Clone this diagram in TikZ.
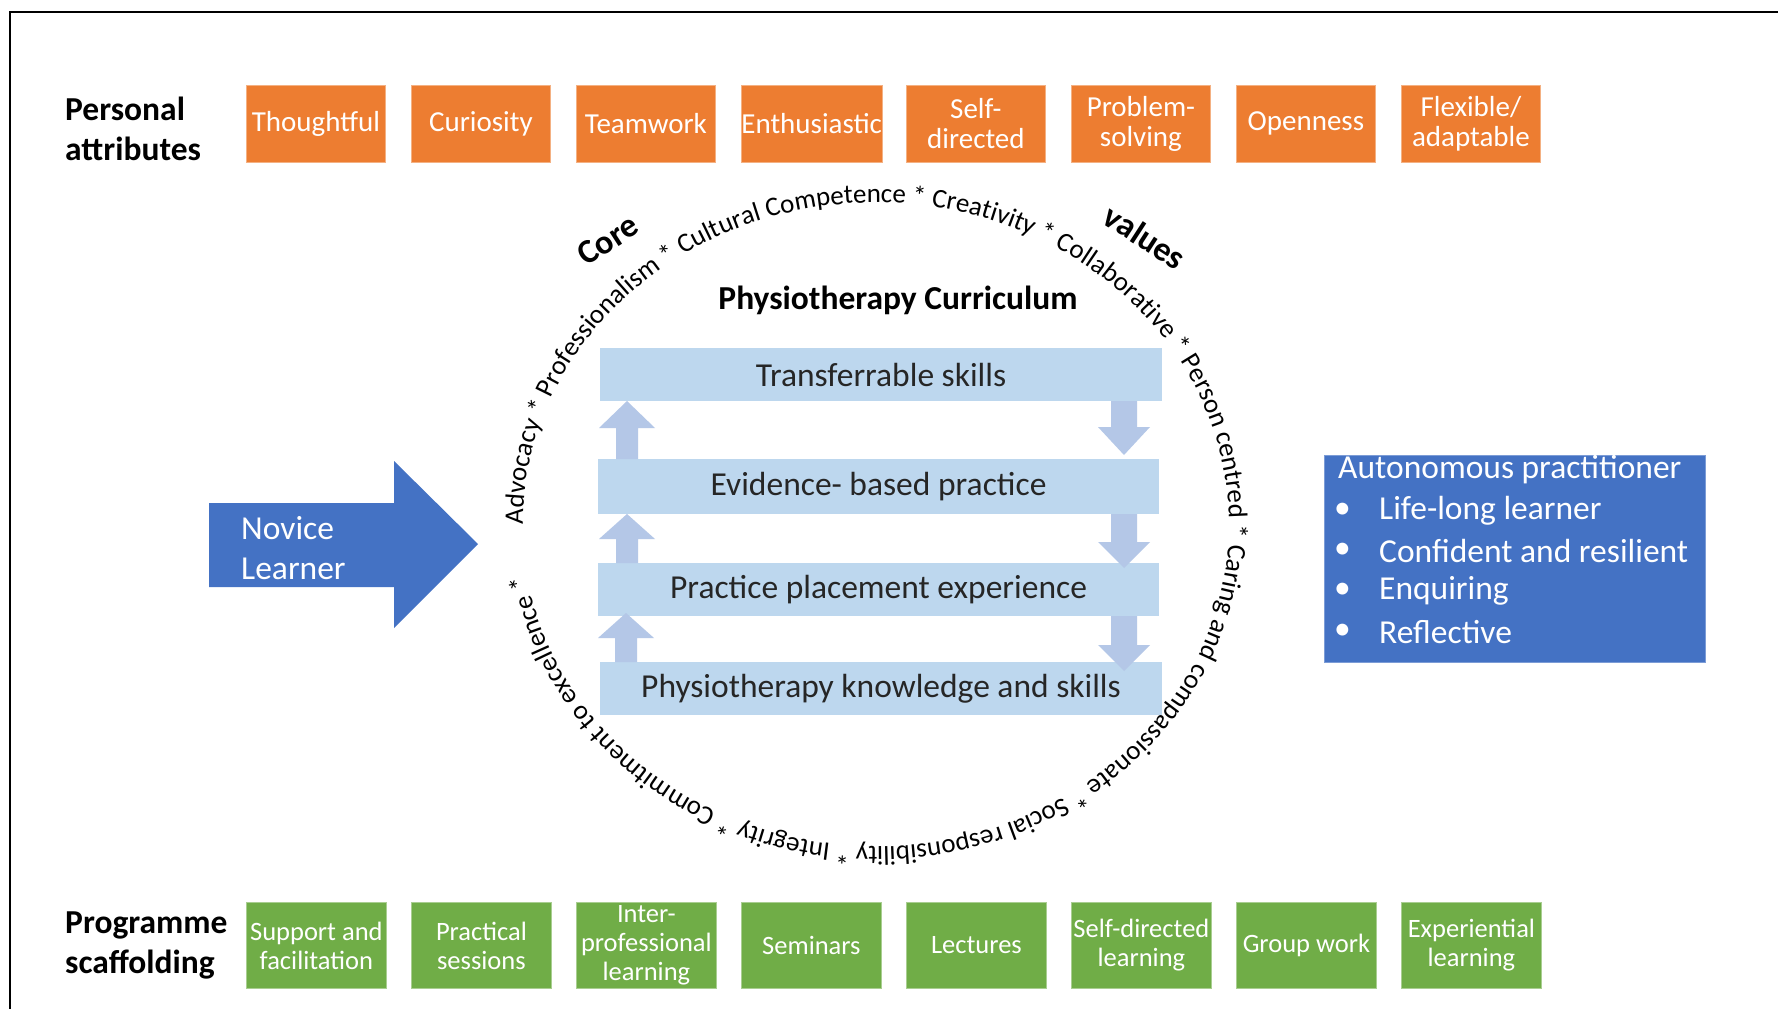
\documentclass[tikz,border=0pt]{standalone}
\usepackage{fontspec}
\setmainfont{Carlito}
\usetikzlibrary{decorations.text}
\definecolor{orng}{HTML}{ED7D31}
\definecolor{grn}{HTML}{70AD47}
\definecolor{barblue}{HTML}{BDD7EE}
\definecolor{arrblue}{HTML}{B4C7E7}
\definecolor{dkblue}{HTML}{4472C4}
\newcommand\ringfont{\fontsize{27}{29}\selectfont}
\newcommand\blockup[4]{\fill[arrblue] (#1,#2) -- ({#1+28},#3) -- ({#1+11},#3) -- ({#1+11},#4) -- ({#1-11},#4) -- ({#1-11},#3) -- ({#1-28},#3) -- cycle;}
\newcommand\blockdown[4]{\fill[arrblue] (#1,#2) -- ({#1+26},#3) -- ({#1+13},#3) -- ({#1+13},#4) -- ({#1-13},#4) -- ({#1-13},#3) -- ({#1-26},#3) -- cycle;}
\begin{document}
\begin{tikzpicture}[x=1pt,y=-1pt,
  attr/.style={fill=orng, draw=orng!60!white, line width=0.8pt, minimum width=139pt, minimum height=77pt, inner sep=0pt, anchor=north west, text=white, align=center, font=\fontsize{29}{30}\selectfont},
  scaf/.style={fill=grn, draw=grn!60!white, line width=0.8pt, minimum width=140pt, minimum height=86pt, inner sep=0pt, anchor=north west, text=white, align=center, font=\fontsize{26.5}{29}\selectfont},
  bar/.style={fill=barblue, inner sep=0pt, text=black!85, font=\fontsize{33.5}{36}\selectfont},
  sidelabel/.style={font=\bfseries\fontsize{33.5}{40}\selectfont, align=left, anchor=west, inner sep=0pt},
  bigword/.style={font=\bfseries\fontsize{34}{36}\selectfont, inner sep=0pt},
  wtext/.style={text=white, font=\fontsize{33.5}{40}\selectfont, inner sep=0pt, anchor=west, align=left},
]
\useasboundingbox (0,0) rectangle (1778,1009);
\fill[white] (0,0) rectangle (1778,1009);
\draw[line width=2pt] (10,1009) -- (10,12) -- (1778,12);

% personal attributes
\node[sidelabel] (pa) at (65,129) {Personal\\attributes};
\node[attr] (a1) at (246,85) {Thoughtful};
\node[attr] (a2) at (411,85) {Curiosity};
\node[attr] (a3) at (576,85) {Teamwork};
\node[attr] (a4) at (741,85) {Enthusiastic};
\node[attr] (a5) at (906,85) {Self-\\directed};
\node[attr] (a6) at (1071,85) {Problem-\\solving};
\node[attr] (a7) at (1236,85) {Openness};
\node[attr] (a8) at (1401,85) {Flexible/\\adaptable};

% programme scaffolding
\node[sidelabel] (ps) at (65,945) {Programme\\scaffolding};
\node[scaf] (s1) at (246,902) {Support and\\facilitation};
\node[scaf] (s2) at (411,902) {Practical\\sessions};
\node[scaf] (s3) at (576,902) {Inter-\\professional\\learning};
\node[scaf] (s4) at (741,902) {Seminars};
\node[scaf] (s5) at (906,902) {Lectures};
\node[scaf] (s6) at (1071,902) {Self-directed\\learning};
\node[scaf] (s7) at (1236,902) {Group work};
\node[scaf] (s8) at (1401,902) {Experiential\\learning};

% curriculum
\node[font=\bfseries\fontsize{33.5}{36}\selectfont, inner sep=0pt] (title) at (898,300) {Physiotherapy Curriculum};
\node[bar, minimum width=562pt, minimum height=53pt] (b1) at (881,374.5) {Transferrable skills};
\node[bar, minimum width=561pt, minimum height=55pt] (b2) at (878.5,486.5) {Evidence- based practice};
\node[bar, minimum width=561pt, minimum height=53pt] (b3) at (878.5,589.5) {Practice placement experience};
\node[bar, minimum width=562pt, minimum height=53pt] (b4) at (881,688.5) {Physiotherapy knowledge and skills};

\blockup{627}{401}{428}{459}
\blockup{627}{514}{539}{563}
\blockup{626}{613}{638}{662}
\blockdown{1124}{455}{427}{401}
\blockdown{1124}{568}{542}{514}
\blockdown{1124}{671}{645}{616}

% ring of values
\path[decorate, decoration={text along path, text align=left,
  text={|\ringfont|Advocacy * Professionalism * Cultural Competence * Creativity * Collaborative * Person centred * Caring and compassionate * Social responsibility * Integrity * Commitment to excellence *}}]
  (523,524.5) arc[start angle=180, end angle=540, x radius=353, y radius=322];
\node[bigword, rotate=33] (core) at (608,240) {Core};
\node[bigword, rotate=-33] (values) at (1145,237) {values};

% novice learner
\fill[dkblue] (209,503) -- (394,503) -- (394,461) -- (478,544) -- (394,628) -- (394,587) -- (209,587) -- cycle;
\node[wtext] (novice) at (241,548) {Novice\\Learner};

% autonomous practitioner
\node[fill=dkblue, draw=dkblue!70!white, line width=1pt, minimum width=381pt, minimum height=207pt, anchor=north west, inner sep=0pt] (auto) at (1324,455) {};
\node[wtext] (t0) at (1338,470) {Autonomous practitioner};
\foreach \y/\t [count=\i] in {511/Life-long learner, 551/Confident and resilient, 591/Enquiring, 632/Reflective}{
  \node[wtext] (bul\i) at (1334,\y) {•};
  \node[wtext] (it\i) at (1379,\y) {\t};
}
\end{tikzpicture}
\end{document}
